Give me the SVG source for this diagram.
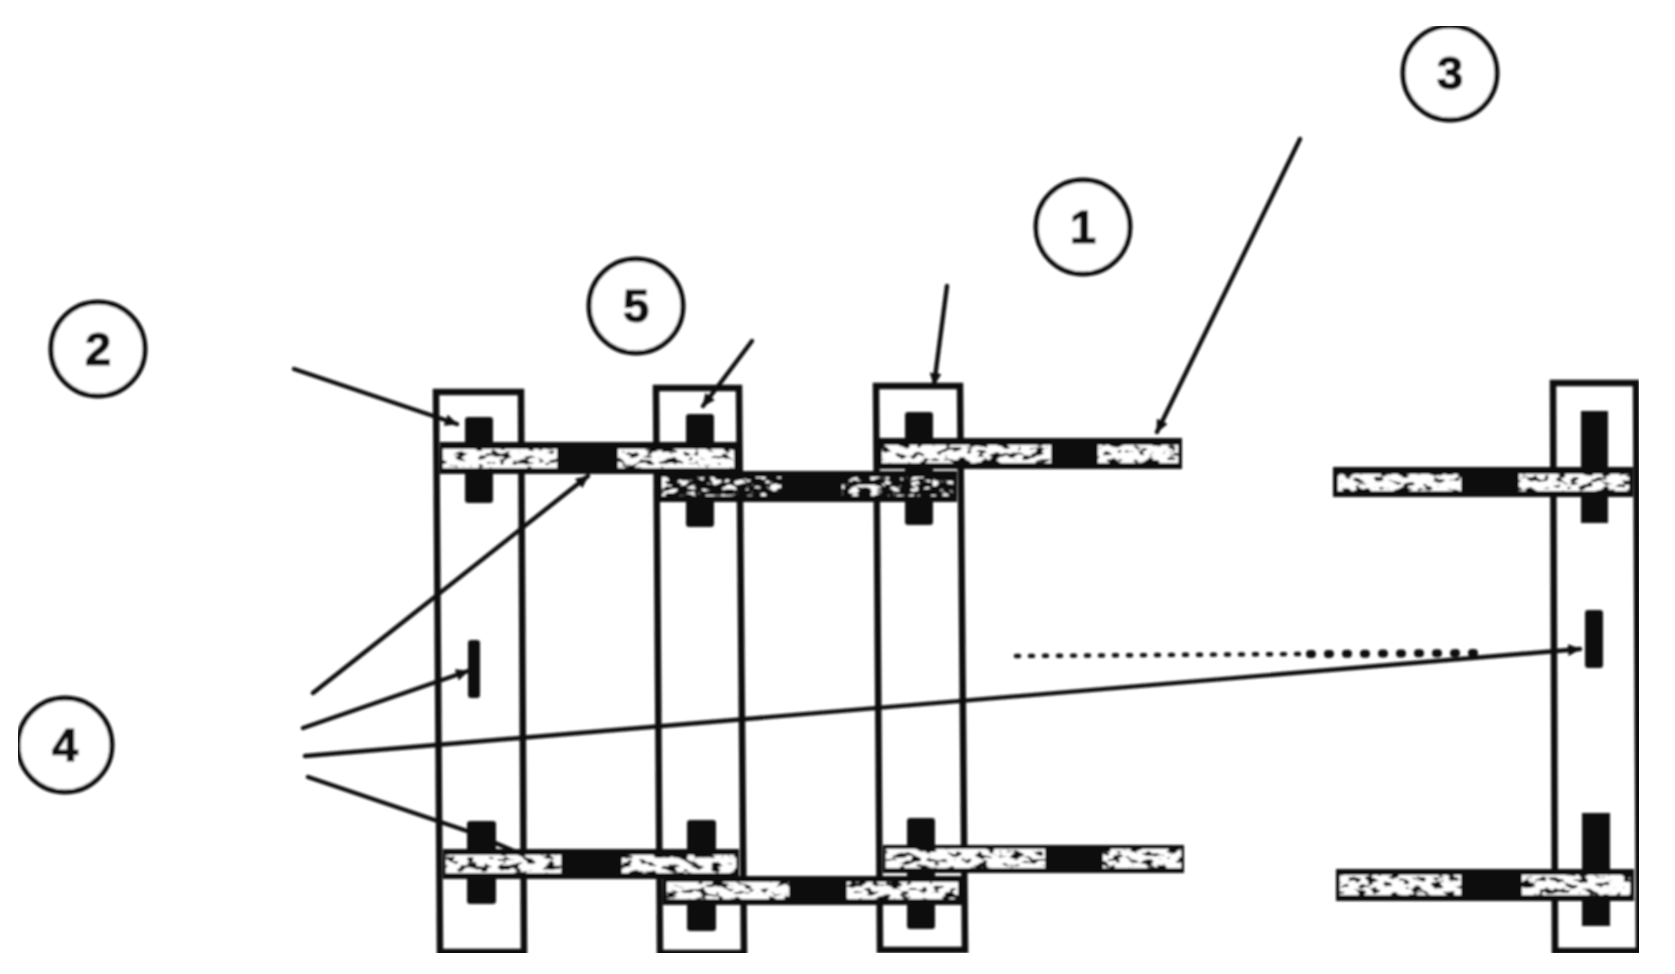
<svg xmlns="http://www.w3.org/2000/svg" width="1675" height="974" viewBox="0 0 1675 974">
<style>
.f{fill:none;stroke:#0d0d0d;stroke-width:6.5}
.p{fill:#0d0d0d}
.b{fill:#0d0d0d}
.w{fill:#fff}
.c{fill:#fff;stroke:#0d0d0d;stroke-width:5}
.t{font-family:"Liberation Sans",Arial,sans-serif;font-weight:700;font-size:47px;fill:#0d0d0d;stroke:#0d0d0d;stroke-width:1.2;text-anchor:middle}
.l{fill:none;stroke:#0d0d0d;stroke-width:4.4;stroke-linecap:round}
</style>
<defs>
<marker id="a" markerUnits="userSpaceOnUse" markerWidth="14" markerHeight="12" refX="12" refY="6" orient="auto"><path d="M0 0L13 6L0 12z" fill="#0d0d0d"/></marker>
<filter id="soft" x="0" y="0" width="100%" height="100%"><feGaussianBlur stdDeviation="0.8"/></filter>
<filter id="worn" x="-2%" y="-20%" width="104%" height="140%">
<feTurbulence type="fractalNoise" baseFrequency="0.09 0.17" numOctaves="2" seed="7" result="n"/>
<feColorMatrix in="n" type="matrix" values="0 0 0 0 0 0 0 0 0 0 0 0 0 0 0 10 0 0 0 -3.7" result="m"/>
<feComposite in="SourceGraphic" in2="m" operator="in"/>
</filter>
<filter id="dark" x="-2%" y="-20%" width="104%" height="140%">
<feTurbulence type="fractalNoise" baseFrequency="0.1 0.2" numOctaves="2" seed="11" result="n"/>
<feColorMatrix in="n" type="matrix" values="0 0 0 0 0 0 0 0 0 0 0 0 0 0 0 10 0 0 0 -5.4" result="m"/>
<feComposite in="SourceGraphic" in2="m" operator="in"/>
</filter>
</defs>
<rect width="1675" height="974" fill="#fff"/>
<g filter="url(#soft)">
<g id="tie-1">
<polygon class="f" points="436,392 521,392 524,952 440,952"/>
<rect class="p" x="465" y="417" width="28" height="86" rx="3"/>
<rect class="p" x="468" y="640" width="12" height="58" rx="3"/>
<rect class="p" x="467" y="821" width="29" height="83" rx="3"/>
</g>
<g id="tie-2">
<polygon class="f" points="656,388 739,388 744,953 660,953"/>
<rect class="p" x="686" y="414" width="28" height="113" rx="3"/>
<rect class="p" x="687" y="820" width="29" height="111" rx="3"/>
</g>
<g id="tie-3">
<polygon class="f" points="876,386 960,386 965,950 880,950"/>
<rect class="p" x="905" y="412" width="28" height="113" rx="3"/>
<rect class="p" x="907" y="818" width="28" height="111" rx="3"/>
</g>
<g id="tie-4">
<polygon class="f" points="1553,383 1636,383 1639,951 1555,951"/>
<rect class="p" x="1581" y="411" width="27" height="112"/>
<rect class="p" x="1585" y="610" width="18" height="58" rx="3"/>
<rect class="p" x="1582" y="813" width="28" height="113"/>
</g>
<g id="bar-top-1"><rect class="b" x="440" y="442" width="297" height="32"/><g filter="url(#worn)"><rect class="w" x="443" y="449" width="114" height="19"/><rect class="w" x="618" y="449" width="116" height="19"/></g></g>
<g id="bar-top-2"><rect class="b" x="658" y="471" width="299" height="31"/><g filter="url(#dark)"><rect class="w" x="662" y="477" width="119" height="19"/><rect class="w" x="842" y="477" width="111" height="19"/></g></g>
<g id="bar-top-3"><rect class="b" x="878" y="438" width="304" height="31"/><g filter="url(#worn)"><rect class="w" x="882" y="445" width="169" height="18"/><rect class="w" x="1098" y="445" width="80" height="18"/></g></g>
<g id="bar-top-4"><rect class="b" x="1333" y="467" width="300" height="30"/><g filter="url(#worn)"><rect class="w" x="1338" y="474" width="123" height="17"/><rect class="w" x="1519" y="474" width="110" height="17"/></g></g>
<g id="bar-bottom-1"><rect class="b" x="443" y="849" width="296" height="30"/><g filter="url(#worn)"><rect class="w" x="446" y="855" width="115" height="18"/><rect class="w" x="622" y="855" width="114" height="18"/></g></g>
<g id="bar-bottom-2"><rect class="b" x="663" y="876" width="299" height="29"/><g filter="url(#worn)"><rect class="w" x="667" y="882" width="122" height="17"/><rect class="w" x="847" y="882" width="111" height="17"/></g></g>
<g id="bar-bottom-3"><rect class="b" x="883" y="845" width="301" height="28"/><g filter="url(#worn)"><rect class="w" x="886" y="849" width="159" height="19"/><rect class="w" x="1103" y="849" width="78" height="19"/></g></g>
<g id="bar-bottom-4"><rect class="b" x="1336" y="869" width="298" height="32"/><g filter="url(#worn)"><rect class="w" x="1340" y="875" width="121" height="20"/><rect class="w" x="1522" y="875" width="108" height="20"/></g></g>
<g id="connectors">
<line class="l" x1="294" y1="369" x2="457" y2="424" marker-end="url(#a)"/>
<line class="l" x1="752" y1="341" x2="703" y2="406" marker-end="url(#a)"/>
<line class="l" x1="947" y1="286" x2="934" y2="385" marker-end="url(#a)"/>
<line class="l" x1="1300" y1="139" x2="1157" y2="432" marker-end="url(#a)"/>
<line class="l" x1="313" y1="693" x2="588" y2="476" marker-end="url(#a)"/>
<line class="l" x1="303" y1="728" x2="468" y2="671" marker-end="url(#a)"/>
<line class="l" x1="305" y1="756" x2="1580" y2="649" marker-end="url(#a)"/>
<polyline class="l" points="308,777 470,832 523,855"/>
<line class="l" x1="1016" y1="656" x2="1300" y2="654" stroke-dasharray="3 11"/>
<line class="l" style="stroke-width:8" x1="1310" y1="654" x2="1475" y2="653" stroke-dasharray="2 16"/>
</g>
<g id="label-1"><circle class="c" cx="1083" cy="227" r="47"/><text class="t" x="1083" y="243">1</text></g>
<g id="label-2"><circle class="c" cx="98" cy="349" r="47"/><text class="t" x="98" y="365">2</text></g>
<g id="label-3"><circle class="c" cx="1450" cy="73" r="47"/><text class="t" x="1450" y="89">3</text></g>
<g id="label-4"><circle class="c" cx="65" cy="745" r="47"/><text class="t" x="65" y="761">4</text></g>
<g id="label-5"><circle class="c" cx="636" cy="306" r="47"/><text class="t" x="636" y="322">5</text></g>
</g>
</svg>
